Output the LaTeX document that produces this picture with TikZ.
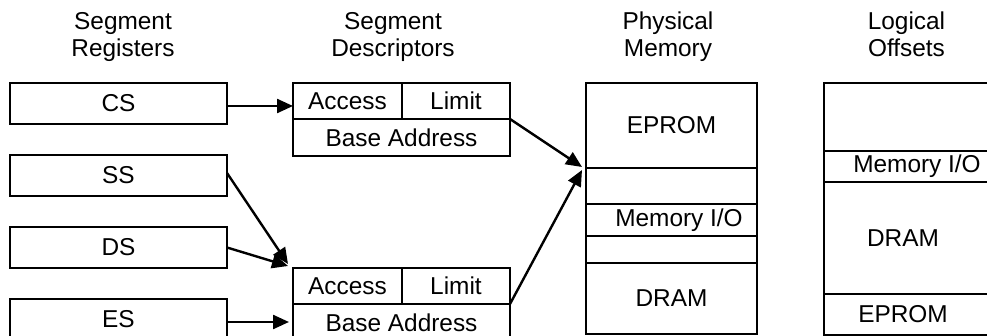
\documentclass[tikz,border=0pt]{standalone}
\usepackage{fontspec}
\setmainfont{Liberation Sans}
\usetikzlibrary{arrows.meta}
\tikzset{
  cell/.style 2 args={draw, line width=1.4pt, rectangle, inner sep=0pt, outer sep=0pt,
    minimum width=#1*0.5pt, minimum height=#2*0.5pt},
  head/.style={anchor=base, inner sep=0pt},
  arr/.style={line width=1.2pt, -{Triangle[length=8pt,width=7pt]}}
}
\begin{document}
\begin{tikzpicture}[x=0.5pt, y=-0.5pt, font=\fontsize{12.2pt}{13.5pt}\selectfont]
\clip (0,0) rectangle (987,336);
% headers
\node[head] (h1a) at (123,29.5) {Segment};
\node[head] (h1b) at (123,57) {Registers};
\node[head] (h2a) at (393,29.5) {Segment};
\node[head] (h2b) at (393,57) {Descriptors};
\node[head] (h3a) at (668,29.5) {Physical};
\node[head] (h3b) at (668,57) {Memory};
\node[head] (h4a) at (906.5,29.5) {Logical};
\node[head] (h4b) at (906.5,57) {Offsets};
% segment registers
\node[cell={217}{41}] (cs) at (118.5,103.5) {CS};
\node[cell={217}{41}] (ss) at (118.5,175.5) {SS};
\node[cell={217}{41}] (ds) at (118.5,247.5) {DS};
\node[cell={217}{41}] (es) at (118.5,319.5) {ES};
% descriptor 1
\node[cell={109}{36}] (d1a) at (347.5,101) {Access};
\node[cell={108}{36}] (d1l) at (456,101) {Limit};
\node[cell={217}{37}] (d1b) at (401.5,137.5) {Base Address};
% descriptor 2
\node[cell={109}{36}] (d2a) at (347.5,286) {Access};
\node[cell={108}{36}] (d2l) at (456,286) {Limit};
\node[cell={217}{37}] (d2b) at (401.5,322.5) {Base Address};
% physical memory
\node[cell={171}{85}] (pm1) at (671.5,125.5) {EPROM};
\node[cell={171}{36}] (pm2) at (671.5,186) {};
\node[cell={171}{32}] (pm3) at (671.5,220) {\hspace*{7.5pt}Memory I/O};
\node[cell={171}{27}] (pm4) at (671.5,249.5) {};
\node[cell={171}{71}] (pm5) at (671.5,298.5) {DRAM};
% logical offsets
\node[cell={166}{68}] (lo1) at (907,117) {};
\node[cell={166}{31}] (lo2) at (907,166.5) {\hspace*{10pt}Memory I/O};
\node[cell={166}{112}] (lo3) at (907,238) {DRAM\hspace*{4pt}};
\node[cell={166}{41}] (lo4) at (907,314.5) {EPROM\hspace*{4pt}};
% arrows
\draw[arr] ([yshift=-1.25pt]cs.east) -- ([yshift=-1.25pt]cs.east -| d1a.west);
\draw[arr] ([yshift=1.25pt]ss.east) -- ([xshift=-2.5pt,yshift=2pt]d2a.north west);
\draw[arr] (ds.east) -- ([xshift=-2.5pt,yshift=1pt]d2a.north west);
\draw[arr] ([yshift=-1.25pt]es.east) -- ([yshift=-1.25pt,xshift=-2pt]es.east -| d2b.west);
\draw[arr] (d1l.south east) -- ([xshift=-2pt,yshift=0.5pt]pm1.south west);
\draw[arr] (d2l.south east) -- ([xshift=-2pt,yshift=-1pt]pm1.south west);
\end{tikzpicture}
\end{document}
